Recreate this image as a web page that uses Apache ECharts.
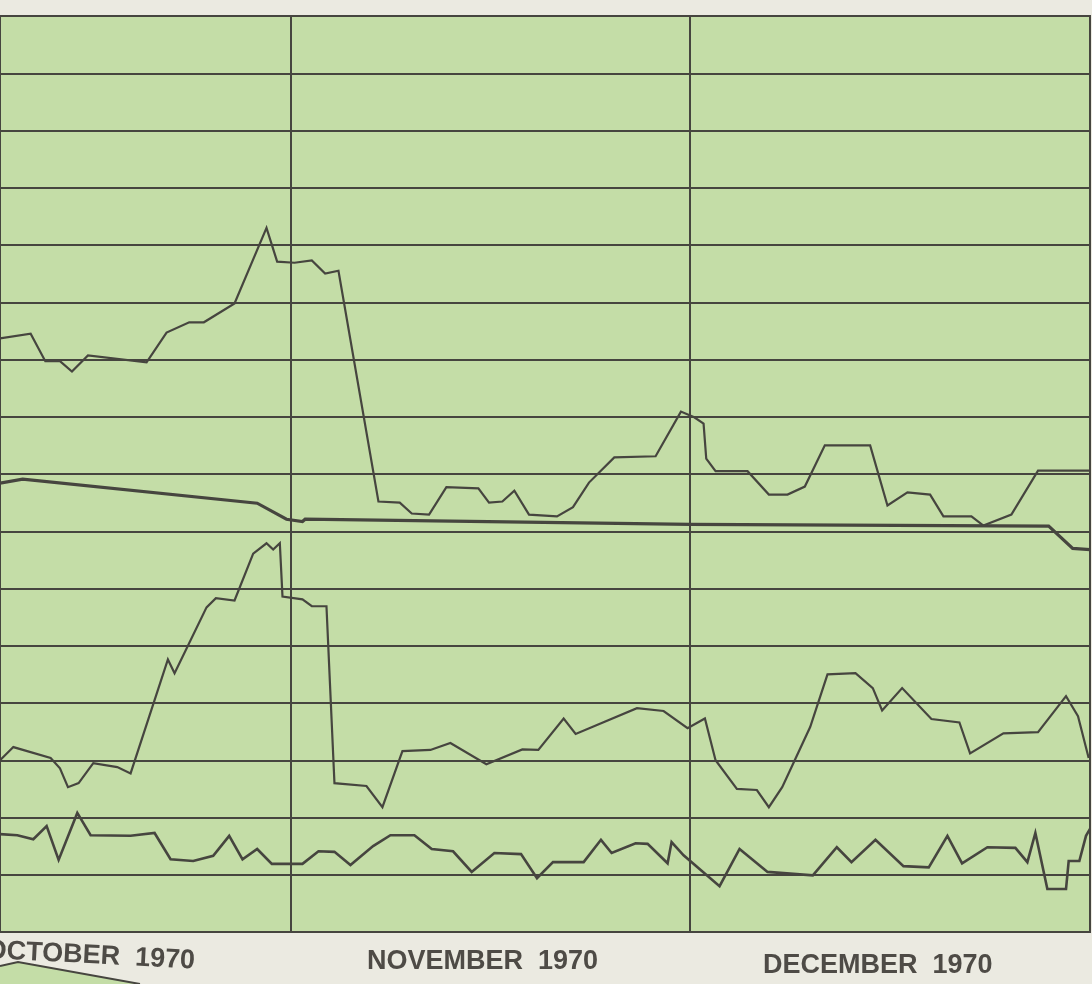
<!DOCTYPE html>
<html>
<head>
<meta charset="utf-8">
<script src="https://cdn.jsdelivr.net/npm/echarts@6/dist/echarts.min.js"></script>
<style>
html,body{margin:0;padding:0;background:#ebeae1;}
#chart{width:1092px;height:984px;}
</style>
</head>
<body>
<div id="chart"></div>
<script>
// x values: day number counted from 1 Oct 1970 (Nov 1 = 32, Dec 1 = 62)
// y values: chart units, 0 = bottom rule, 16 = top rule
const monthLabels = ['OCTOBER  1970', 'NOVEMBER  1970', 'DECEMBER  1970'];
const monthStartDays = [32, 62];

const seriesADays = [10.2,12.5,13.6,14.7,15.6,16.8,21.2,22.7,24.4,25.5,27.8,30.2,31.0,32.3,33.6,34.6,35.6,38.6,40.2,41.1,42.4,43.7,46.1,46.9,47.9,48.8,49.9,52.0,53.2,54.4,56.3,59.4,61.3,62.3,63.0,63.2,63.9,66.3,67.9,69.3,70.6,72.1,75.5,76.8,78.3,80.0,81.0,83.1,84.0,86.1,88.1,92.0];
const seriesAValues = [10.37,10.45,9.97,9.97,9.79,10.07,9.95,10.47,10.65,10.65,10.98,12.30,11.71,11.69,11.73,11.50,11.55,7.52,7.50,7.31,7.29,7.77,7.75,7.50,7.52,7.71,7.29,7.26,7.42,7.85,8.29,8.31,9.09,8.99,8.88,8.27,8.05,8.05,7.64,7.64,7.78,8.50,8.50,7.45,7.68,7.64,7.26,7.26,7.10,7.29,8.06,8.06];

const seriesBDays = [10.2,11.9,29.5,31.7,32.9,33.1,62.0,88.9,90.7,92.0];
const seriesBValues = [7.84,7.91,7.49,7.21,7.17,7.21,7.12,7.09,6.70,6.68];

const seriesCDays = [10.2,11.2,14.0,14.7,15.3,16.1,17.2,19.0,20.0,22.8,23.3,25.7,26.4,27.8,29.2,30.2,30.7,31.2,31.4,32.9,33.6,34.7,35.3,37.7,38.9,40.4,42.5,44.0,46.7,49.4,50.6,52.5,53.4,58.0,60.0,61.8,63.1,63.9,65.5,67.0,67.9,68.9,71.0,72.3,74.4,75.7,76.4,77.9,80.1,82.2,83.0,85.5,88.1,90.2,91.1,91.9];
const seriesCValues = [3.00,3.23,3.04,2.86,2.53,2.60,2.95,2.88,2.77,4.76,4.52,5.67,5.83,5.79,6.61,6.79,6.68,6.79,5.86,5.81,5.69,5.69,2.60,2.55,2.18,3.16,3.18,3.30,2.93,3.19,3.18,3.73,3.46,3.91,3.86,3.56,3.73,3.00,2.50,2.48,2.18,2.53,3.58,4.50,4.52,4.26,3.87,4.26,3.72,3.66,3.12,3.47,3.49,4.12,3.77,3.04];

const seriesDDays = [10.2,11.5,12.7,13.7,14.6,16.0,17.0,20.0,21.8,23.0,24.7,26.2,27.4,28.4,29.5,30.6,32.9,34.1,35.3,36.5,38.2,39.5,41.3,42.6,44.2,45.6,47.3,49.3,50.5,51.7,54.0,55.3,56.1,57.9,58.8,60.3,60.6,61.5,64.2,65.7,67.8,71.2,73.0,74.1,75.9,78.0,79.9,81.3,82.4,84.3,86.4,87.3,87.9,88.8,90.2,90.4,91.2,91.7,92.0];
const seriesDValues = [1.71,1.69,1.62,1.85,1.26,2.08,1.69,1.68,1.73,1.27,1.24,1.33,1.68,1.27,1.45,1.19,1.19,1.41,1.40,1.17,1.50,1.69,1.69,1.45,1.41,1.05,1.38,1.36,0.94,1.22,1.22,1.61,1.38,1.55,1.54,1.20,1.57,1.34,0.80,1.45,1.05,0.99,1.48,1.22,1.61,1.15,1.13,1.68,1.20,1.48,1.47,1.22,1.73,0.75,0.75,1.24,1.24,1.68,1.80];

const INK = '#46453f';
const GREEN = '#c4dda7';

function zip(xs, ys) { return xs.map((x, i) => [x, ys[i]]); }
function lineSeries(name, xs, ys, width, extra) {
  return Object.assign({
    name: name, type: 'line', data: zip(xs, ys),
    showSymbol: false, symbol: 'none', smooth: false,
    lineStyle: { color: INK, width: width, join: 'miter' },
    z: 5
  }, extra || {});
}

const chart = echarts.init(document.getElementById('chart'), null, { renderer: 'canvas' });
chart.setOption({
  animation: false,
  backgroundColor: '#ebeae1',
  grid: {
    left: -2, right: 2, top: 16, bottom: 52,
    show: true, backgroundColor: GREEN, borderColor: INK, borderWidth: 2
  },
  xAxis: {
    type: 'value', min: 10.2, max: 92,
    axisLine: { show: false }, axisTick: { show: false },
    axisLabel: { show: false }, splitLine: { show: false }
  },
  yAxis: {
    type: 'value', min: 0, max: 16, interval: 1,
    axisLine: { show: false }, axisTick: { show: false },
    axisLabel: { show: false },
    splitLine: { show: true, lineStyle: { color: INK, width: 2 } }
  },
  series: [
    lineSeries('A', seriesADays, seriesAValues, 2.2),
    lineSeries('B', seriesBDays, seriesBValues, 3.2, {
      markLine: {
        silent: true, symbol: ['none', 'none'],
        label: { show: false },
        lineStyle: { color: INK, width: 2, type: 'solid' },
        data: monthStartDays.map(d => ({ xAxis: d }))
      }
    }),
    lineSeries('C', seriesCDays, seriesCValues, 2.2),
    lineSeries('D', seriesDDays, seriesDValues, 2.6)
  ],
  graphic: [
    {
      type: 'polygon', z: 1, silent: true,
      shape: { points: [[0, 966], [18, 962], [140, 984], [0, 984]] },
      style: { fill: GREEN }
    },
    {
      type: 'polyline', z: 2, silent: true,
      shape: { points: [[0, 966], [18, 962], [140, 984]] },
      style: { stroke: INK, lineWidth: 2, fill: null }
    },
    {
      type: 'text', left: -15, top: 937, rotation: -0.05, z: 10,
      style: { text: monthLabels[0], font: 'bold 27px "Liberation Sans", Arial, sans-serif', fill: '#4e4b46' }
    },
    {
      type: 'text', left: 367, top: 948, z: 10,
      style: { text: monthLabels[1], font: 'bold 27px "Liberation Sans", Arial, sans-serif', fill: '#4e4b46' }
    },
    {
      type: 'text', left: 763, top: 952, z: 10,
      style: { text: monthLabels[2], font: 'bold 27px "Liberation Sans", Arial, sans-serif', fill: '#4e4b46' }
    }
  ]
});
</script>
</body>
</html>
